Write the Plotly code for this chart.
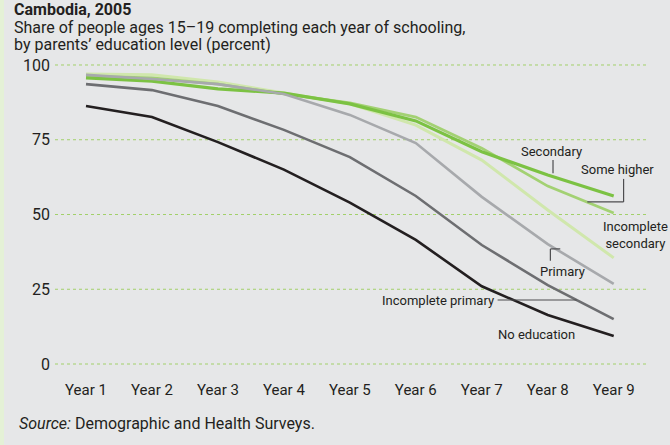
import plotly.graph_objects as go

years = ["Year 1", "Year 2", "Year 3", "Year 4", "Year 5", "Year 6", "Year 7", "Year 8", "Year 9"]
no_education = [86.3, 82.6, 74.2, 65.0, 54.0, 41.5, 26.0, 16.4, 9.4]
incomplete_primary = [93.6, 91.6, 86.3, 78.3, 69.2, 56.2, 39.8, 26.4, 15.0]
primary = [96.7, 95.3, 93.6, 90.3, 83.3, 73.9, 55.9, 40.1, 26.8]
incomplete_secondary = [97.0, 96.7, 94.3, 90.6, 87.0, 79.9, 68.2, 51.5, 35.5]
secondary = [95.7, 94.6, 92.0, 90.6, 87.0, 81.3, 71.0, 63.2, 56.2]
some_higher = [96.3, 95.7, 93.6, 90.3, 87.3, 82.6, 72.2, 59.5, 50.5]
y_ticks = [0, 25, 50, 75, 100]

FONT = "Roboto"
TXT = "#231f20"

fig = go.Figure()

# dotted green gridlines, drawn at each y tick
for v in y_ticks:
    fig.add_shape(type="line", xref="paper", yref="y", x0=0, x1=1, y0=v, y1=v,
                  line=dict(color="#a2d06a", width=1, dash="dot"), layer="below")

series = [
    ("No education", no_education, "#231f20", 2.6),
    ("Incomplete primary", incomplete_primary, "#6d6e71", 2.6),
    ("Incomplete secondary", incomplete_secondary, "#d0e7ac", 3.0),
    ("Some higher", some_higher, "#a3d173", 2.8),
    ("Secondary", secondary, "#7cc243", 3.2),
    ("Primary", primary, "#a7a9ac", 2.6),
]
for name, vals, col, w in series:
    fig.add_trace(go.Scatter(x=list(range(len(years))), y=vals, mode="lines", name=name,
                             line=dict(color=col, width=w), showlegend=False, hoverinfo="skip"))

# labels (x in category index, y in data units)
labels = [
    ("Secondary", 7.05, 71.2),
    ("Some higher", 8.06, 64.9),
    ("Incomplete<br>secondary", 8.33, 43.1),
    ("Primary", 7.23, 31.0),
    ("Incomplete primary", 5.34, 21.4),
    ("No education", 6.83, 10.0),
]
for text, x, y in labels:
    fig.add_annotation(x=x, y=y, text=text, showarrow=False, xanchor="center", yanchor="middle",
                       font=dict(family=FONT, size=13, color=TXT))

LC = "#4d4d4f"
def seg(x0, y0, x1, y1):
    fig.add_shape(type="line", x0=x0, y0=y0, x1=x1, y1=y1, xref="x", yref="y",
                  line=dict(color=LC, width=1.2))

seg(7.08, 68.2, 7.08, 63.8)          # Secondary
seg(8.15, 61.9, 8.15, 54.2)          # Some higher
seg(8.15, 54.2, 7.60, 54.2)
seg(7.04, 34.5, 7.04, 38.5)          # Primary
seg(7.04, 38.5, 7.19, 38.5)
seg(6.24, 21.4, 7.44, 21.4)          # Incomplete primary

# plot area in px: x 55..648, y 64..365 (range -0.33..100.33)
Y0, Y1 = -0.33, 100.33
PT, PB = 64, 365
def px(xp):
    return (xp - 55) / 593
def py(yp):
    return (PB - yp) / (PB - PT)

fig.add_annotation(x=px(12), y=py(9), xref="paper", yref="paper", text="<b>Cambodia, 2005</b>",
                   showarrow=False, xanchor="left", yanchor="middle",
                   font=dict(family=FONT, size=16, color=TXT))
fig.add_annotation(x=px(12), y=py(27.5), xref="paper", yref="paper",
                   text="Share of people ages 15–19 completing each year of schooling,",
                   showarrow=False, xanchor="left", yanchor="middle",
                   font=dict(family=FONT, size=16, color=TXT))
fig.add_annotation(x=px(12), y=py(44.5), xref="paper", yref="paper",
                   text="by parents’ education level (percent)",
                   showarrow=False, xanchor="left", yanchor="middle",
                   font=dict(family=FONT, size=16, color=TXT))
fig.add_annotation(x=px(17), y=py(423), xref="paper", yref="paper",
                   text="<i>Source:</i> Demographic and Health Surveys.",
                   showarrow=False, xanchor="left", yanchor="middle",
                   font=dict(family=FONT, size=16, color=TXT))

# light green left strip
fig.add_shape(type="rect", xref="paper", yref="paper", x0=px(0), x1=px(4), y0=py(445), y1=py(0),
              fillcolor="#e4f1d6", line=dict(width=0), layer="below")

fig.update_layout(
    width=670, height=445,
    margin=dict(l=55, r=22, t=PT, b=445 - PB, pad=0),
    paper_bgcolor="#e6e7e8", plot_bgcolor="#e6e7e8",
    font=dict(family=FONT, size=15, color=TXT),
)
fig.update_xaxes(range=[-0.47, 8.52], tickmode="array", tickvals=list(range(len(years))), ticktext=years,
                 showgrid=False, zeroline=False, showline=False, ticks="", ticklabelstandoff=14,
                 tickfont=dict(family=FONT, size=15, color=TXT))
fig.update_yaxes(range=[Y0, Y1], tickmode="array", tickvals=y_ticks, showgrid=False,
                 zeroline=False, showline=False,
                 ticks="", ticklabelstandoff=4, tickfont=dict(family=FONT, size=16, color=TXT))

fig.write_html("out.html", config={"displayModeBar": False},
               post_script="document.body.style.margin='0';document.body.style.background='#e6e7e8';")
